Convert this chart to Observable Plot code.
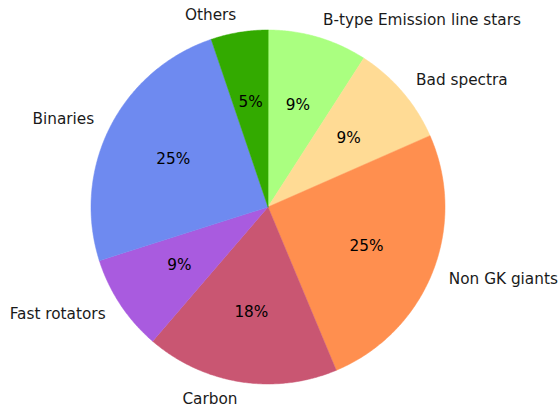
<!DOCTYPE html>
<html>
<head>
<meta charset="utf-8">
<script src="https://cdn.jsdelivr.net/npm/d3@7"></script>
<script src="https://cdn.jsdelivr.net/npm/@observablehq/plot@0.6"></script>
<style>
  html, body { margin: 0; padding: 0; background: #fff; }
  #chart svg { display: block; }
</style>
</head>
<body>
<div id="chart"></div>
<script>
// Share of stars per rejection category (percent), listed clockwise from 12 o'clock
const categories = ["B-type Emission line stars", "Bad spectra", "Non GK giants", "Carbon", "Fast rotators", "Binaries", "Others"];
const shares = [9.1, 9.3, 25.3, 17.6, 8.8, 24.7, 5.2];
const colors = ["#aaff80", "#ffdb95", "#ff8f4f", "#c95672", "#a95bdf", "#6e8af0", "#33aa00"];

const W = 558, H = 410;
const cx = 267.5, cy = 206.5, R = 177; // centre and radius in pixels

// Build wedge outlines in unit-circle coordinates (y up), clockwise from the top
const total = d3.sum(shares);
const wedges = [];
const labels = [];
let start = 0;
categories.forEach((name, i) => {
  const sweep = shares[i] / total * 2 * Math.PI;
  const end = start + sweep;
  wedges.push({name, x: 0, y: 0});
  const steps = Math.max(2, Math.ceil(sweep / (Math.PI / 360)));
  for (let k = 0; k <= steps; ++k) {
    const a = start + sweep * k / steps;
    wedges.push({name, x: Math.sin(a), y: Math.cos(a)});
  }
  const mid = (start + end) / 2;
  labels.push({
    name,
    pct: `${Math.round(shares[i] / total * 100)}%`,
    lx: 1.1 * Math.sin(mid), ly: 1.1 * Math.cos(mid),
    px: 0.6 * Math.sin(mid), py: 0.6 * Math.cos(mid)
  });
  start = end;
});

const font = "DejaVu Sans, sans-serif";
const fs = 15.3;

const chart = Plot.plot({
  width: W,
  height: H,
  margin: 0,
  x: {domain: [-cx / R, (W - cx) / R], axis: null},
  y: {domain: [-(H - cy) / R, cy / R], axis: null},
  color: {domain: categories, range: colors},
  style: {fontFamily: font, background: "#fff"},
  marks: [
    Plot.line(wedges, {
      x: "x", y: "y", z: "name",
      fill: "name", stroke: "name", strokeWidth: 0.5,
      curve: "linear-closed"
    }),
    Plot.text(labels.filter(d => d.lx >= 0), {
      x: "lx", y: "ly", text: "name",
      textAnchor: "start", fontSize: fs, fill: "#1a1a1a", fontFamily: font
    }),
    Plot.text(labels.filter(d => d.lx < 0), {
      x: "lx", y: "ly", text: "name",
      textAnchor: "end", fontSize: fs, fill: "#1a1a1a", fontFamily: font
    }),
    Plot.text(labels, {
      x: "px", y: "py", text: "pct",
      textAnchor: "middle", fontSize: fs, fill: "#000", fontFamily: font
    })
  ]
});

document.getElementById("chart").append(chart);
</script>
</body>
</html>
